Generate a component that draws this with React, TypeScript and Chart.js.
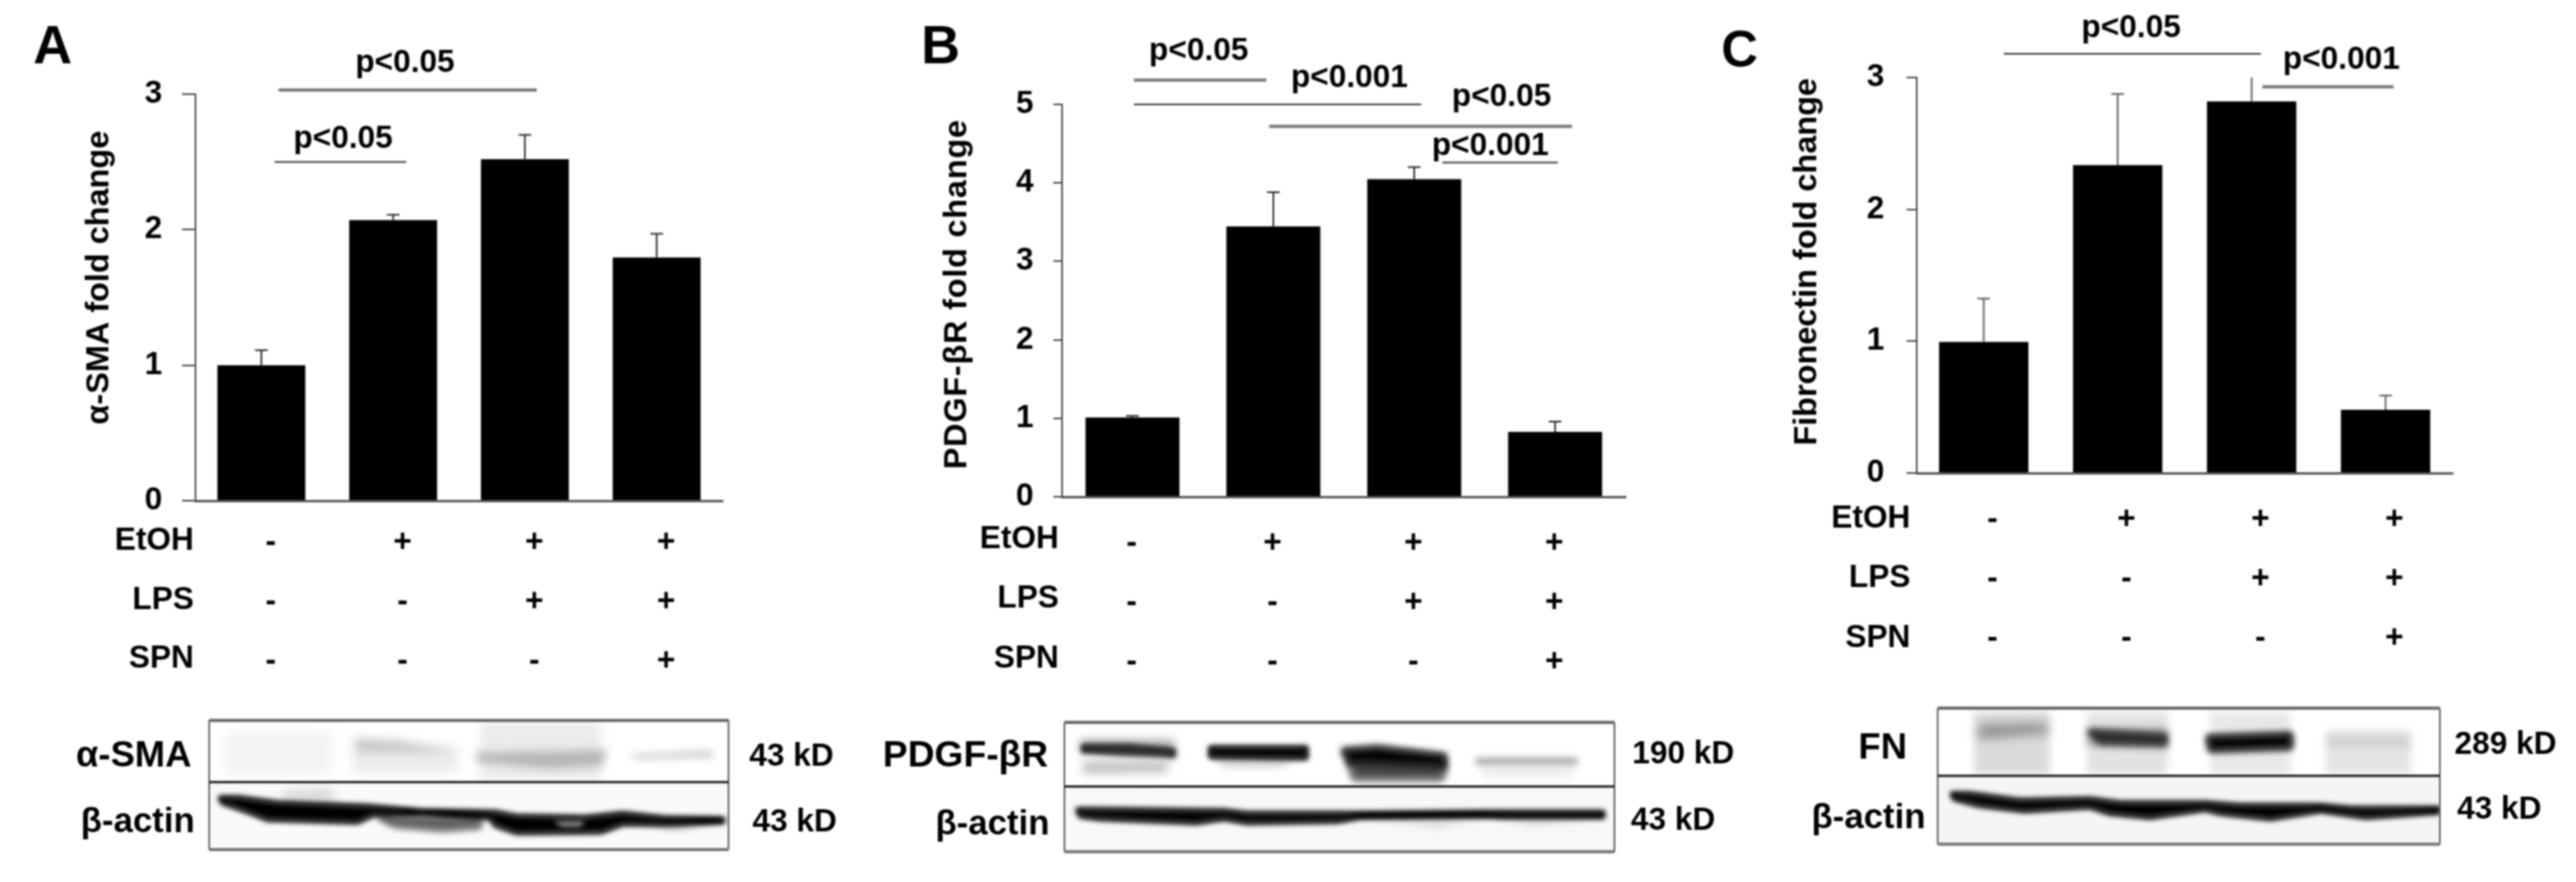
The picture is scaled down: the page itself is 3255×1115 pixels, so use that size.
import React, { useEffect, useRef } from "react";
import { Chart, registerables } from "chart.js";

Chart.register(...registerables);

const FONT = '"Liberation Sans", Arial, sans-serif';

// ---- data ----
const treatmentRows = ["EtOH", "LPS", "SPN"];
const treatments = [
  ["-", "-", "-"],
  ["+", "-", "-"],
  ["+", "+", "-"],
  ["+", "+", "+"],
];
const smaValues = [1.0, 2.07, 2.52, 1.795];
const smaErrors = [1.11, 2.11, 2.7, 1.97];
const pdgfValues = [1.01, 3.445, 4.047, 0.826];
const pdgfErrors = [1.03, 3.88, 4.2, 0.958];
const fnValues = [0.995, 2.336, 2.818, 0.48];
const fnErrors = [1.323, 2.876, 3.0, 0.588];

// p-value annotations: from/to in category units, y in value units
const smaSig = [
  { text: "p<0.05", from: 0.13, to: 2.09, y: 3.03, tx: 1.09, ty: 3.23, heavy: true },
  { text: "p<0.05", from: 0.1, to: 1.1, y: 2.5, tx: 0.62, ty: 2.67, heavy: false },
];
const pdgfSig = [
  { text: "p<0.05", from: 0.01, to: 0.95, y: 5.31, tx: 0.47, ty: 5.68, heavy: true },
  { text: "p<0.001", from: 0.01, to: 2.05, y: 5.0, tx: 1.54, ty: 5.33, heavy: false },
  { text: "p<0.05", from: 0.97, to: 3.12, y: 4.72, tx: 2.62, ty: 5.09, heavy: true },
  { text: "p<0.001", from: 2.2, to: 3.02, y: 4.26, tx: 2.54, ty: 4.47, heavy: false },
];
const fnSig = [
  { text: "p<0.05", from: 0.15, to: 2.07, y: 3.18, tx: 1.1, ty: 3.37, heavy: false },
  { text: "p<0.001", from: 2.08, to: 3.06, y: 2.93, tx: 2.67, ty: 3.13, heavy: true },
];

// ---- western blot sketches (coordinates in crop units of each blot) ----
type Shape = { p: number[][]; c: string; b: number };
const blotA = {
  ox: 50, oy: 880, fx: 1.4933, fy: 3,
  frame: [320, 92, 1300, 326, 582],
  bg: "#fafafa",
  top: [
    { p: [[350, 130], [550, 130], [550, 300], [350, 300]], c: "#f3f3f3", b: 8 },
    { p: [[590, 170], [790, 190], [790, 290], [590, 290]], c: "#ececec", b: 7 },
    { p: [[595, 160], [680, 170], [785, 215], [600, 215]], c: "#c9c9c9", b: 6 },
    { p: [[830, 100], [1060, 100], [1060, 320], [830, 320]], c: "#ececec", b: 6 },
    { p: [[825, 215], [1070, 205], [1060, 265], [960, 275], [825, 250]], c: "#b4b4b4", b: 6 },
    { p: [[1120, 220], [1270, 205], [1270, 235], [1120, 240]], c: "#d2d2d2", b: 5 },
  ] as Shape[],
  bottom: [
    { p: [[460, 360], [550, 350], [560, 400], [460, 400]], c: "#d8d8d8", b: 6 },
    { p: [[640, 460], [830, 465], [830, 495], [760, 505], [670, 490]], c: "#555", b: 4 },
    { p: [[1120, 480], [1280, 478], [1200, 510]], c: "#bbb", b: 4 },
    { p: [[340, 385], [375, 385], [450, 405], [620, 418], [720, 435], [860, 440], [900, 455], [1030, 460], [1100, 445], [1180, 462], [1290, 465], [1290, 478], [1180, 485], [1100, 485], [1060, 515], [900, 518], [860, 490], [850, 462], [720, 445], [630, 450], [600, 478], [430, 468], [395, 440], [345, 405]], c: "#000", b: 3 },
    { p: [[970, 475], [1030, 475], [1020, 495], [985, 495]], c: "#999", b: 3 },
  ] as Shape[],
};
const blotB = {
  ox: 1090, oy: 880, fx: 1.4, fy: 3,
  frame: [357, 100, 1330, 343, 590],
  bg: "#f8f8f8",
  top: [
    { p: [[385, 165], [550, 165], [555, 235], [385, 215]], c: "#aaa", b: 6 },
    { p: [[390, 190], [470, 190], [550, 205], [550, 225], [470, 218], [390, 208]], c: "#222", b: 3 },
    { p: [[390, 245], [540, 245], [540, 290], [390, 295]], c: "#c2c2c2", b: 6 },
    { p: [[620, 235], [780, 235], [740, 268], [640, 268]], c: "#ccc", b: 5 },
    { p: [[615, 195], [785, 195], [785, 235], [615, 230]], c: "#000", b: 3 },
    { p: [[860, 250], [1030, 265], [1025, 312], [870, 312]], c: "#444", b: 5 },
    { p: [[850, 205], [910, 195], [1030, 225], [1030, 265], [860, 250]], c: "#000", b: 4 },
    { p: [[1090, 270], [1260, 270], [1255, 310], [1100, 310]], c: "#eee", b: 5 },
    { p: [[1085, 235], [1265, 235], [1265, 260], [1085, 260]], c: "#a0a0a0", b: 4 },
  ] as Shape[],
  bottom: [
    { p: [[900, 465], [1100, 460], [1020, 500]], c: "#ddd", b: 5 },
    { p: [[1130, 460], [1300, 460], [1190, 495]], c: "#ddd", b: 5 },
    { p: [[380, 430], [420, 430], [640, 435], [680, 445], [870, 445], [1100, 440], [1310, 440], [1310, 458], [1130, 458], [1100, 455], [880, 460], [840, 475], [680, 480], [640, 465], [590, 480], [420, 465], [385, 455]], c: "#000", b: 3 },
  ] as Shape[],
};
const blotC = {
  ox: 2260, oy: 870, fx: 1.576, fy: 3,
  frame: [297, 76, 1297, 332, 592],
  bg: "#f5f5f5",
  top: [
    { p: [[370, 90], [520, 90], [520, 325], [370, 325]], c: "#dadada", b: 5 },
    { p: [[380, 140], [515, 135], [515, 170], [380, 190]], c: "#888", b: 7 },
    { p: [[595, 90], [755, 90], [755, 325], [595, 325]], c: "#e2e2e2", b: 5 },
    { p: [[595, 150], [755, 150], [755, 230], [595, 220]], c: "#aaa", b: 5 },
    { p: [[600, 165], [750, 180], [750, 210], [620, 205]], c: "#222", b: 4 },
    { p: [[840, 90], [1000, 90], [1000, 325], [840, 325]], c: "#e8e8e8", b: 5 },
    { p: [[835, 185], [1000, 175], [1000, 225], [840, 235]], c: "#000", b: 4 },
    { p: [[1070, 160], [1240, 160], [1240, 325], [1070, 325]], c: "#e4e4e4", b: 5 },
    { p: [[1075, 180], [1235, 180], [1235, 225], [1075, 225]], c: "#d2d2d2", b: 5 },
  ] as Shape[],
  bottom: [
    { p: [[325, 400], [360, 400], [460, 425], [600, 420], [660, 435], [830, 435], [900, 445], [1060, 445], [1120, 455], [1295, 455], [1295, 470], [1150, 490], [1060, 465], [960, 495], [860, 475], [830, 460], [720, 490], [640, 475], [600, 450], [470, 465], [380, 445], [330, 420]], c: "#000", b: 3 },
  ] as Shape[],
};

type Txt = [string, number, number, string?];

const panels = [
  {
    canvasLeft: 0, canvasWidth: 1090,
    area: { left: 247, top: 119, right: 913, bottom: 633 },
    values: smaValues, errors: smaErrors, sig: smaSig, max: 3,
    tickLen: 17, tickPad: 25, labelOffset: 12, rowY: [684, 759, 833], rowRight: 245, xPad: 7,
    title: "α-SMA fold change", titleX: 126, titleY: 351, titleSpacing: "0px",
    letter: ["A", 42, 61, 68], errColor: "#222",
    blot: blotA,
    blotLabels: [["α-SMA", 169, 956, "46"], ["β-actin", 174, 1040, "44"]] as Txt[],
    kd: [["43 kD", 1000, 957], ["43 kD", 1004, 1040]] as Txt[],
  },
  {
    canvasLeft: 1090, canvasWidth: 1130,
    area: { left: 1342, top: 132, right: 2054, bottom: 628 },
    values: pdgfValues, errors: pdgfErrors, sig: pdgfSig, max: 5,
    tickLen: 11, tickPad: 25, labelOffset: -1, rowY: [682, 757, 833], rowRight: 1338, xPad: 13,
    title: "PDGF-βR fold change", titleX: 1210, titleY: 372, titleSpacing: "1px",
    letter: ["B", 1164, 61, 68], errColor: "#222",
    blot: blotB,
    blotLabels: [["PDGF-βR", 1220, 956, "47"], ["β-actin", 1254, 1043, "44"]] as Txt[],
    kd: [["190 kD", 2127, 954], ["43 kD", 2114, 1038]] as Txt[],
  },
  {
    canvasLeft: 2170, canvasWidth: 1085,
    area: { left: 2422, top: 98, right: 3099, bottom: 598 },
    values: fnValues, errors: fnErrors, sig: fnSig, max: 3,
    tickLen: 13, tickPad: 28, labelOffset: 11, rowY: [656, 731, 807], rowRight: 2414, xPad: 13,
    title: "Fibronectin fold change", titleX: 2284, titleY: 331, titleSpacing: "0px",
    letter: ["C", 2175, 66, 64], errColor: "#555",
    blot: blotC,
    blotLabels: [["FN", 2379, 946, "46"], ["β-actin", 2361, 1035, "44"]] as Txt[],
    kd: [["289 kD", 3166, 942], ["43 kD", 3158, 1024]] as Txt[],
  },
];

function drawShape(ctx: CanvasRenderingContext2D, s: Shape, X: (v: number) => number, Y: (v: number) => number) {
  ctx.save();
  ctx.filter = `blur(${s.b}px)`;
  ctx.fillStyle = s.c;
  ctx.strokeStyle = s.c;
  ctx.lineJoin = "round";
  ctx.lineWidth = 5;
  ctx.beginPath();
  s.p.forEach((pt, i) => (i ? ctx.lineTo(X(pt[0]), Y(pt[1])) : ctx.moveTo(X(pt[0]), Y(pt[1]))));
  ctx.closePath();
  ctx.fill();
  // dark bands sit a little fatter than their outline
  if (s.c[1] < "6") ctx.stroke();
  ctx.restore();
}

function drawBlot(ctx: CanvasRenderingContext2D, blot: typeof blotA, shift: number) {
  const X = (v: number) => blot.ox + v / blot.fx - shift;
  const Y = (v: number) => blot.oy + v / blot.fy;
  const [l, t, r, m, b] = blot.frame;
  const part = (y0: number, y1: number, bg: string, shapes: Shape[]) => {
    ctx.save();
    ctx.beginPath();
    ctx.rect(X(l), Y(y0), X(r) - X(l), Y(y1) - Y(y0));
    ctx.clip();
    ctx.fillStyle = bg;
    ctx.fillRect(X(l), Y(y0), X(r) - X(l), Y(y1) - Y(y0));
    shapes.forEach((s) => drawShape(ctx, s, X, Y));
    ctx.restore();
  };
  part(t, m, "#fff", blot.top);
  part(m, b, blot.bg, blot.bottom);
  ctx.save();
  const line = (x0: number, y0: number, x1: number, y1: number, w: number, c: string) => {
    ctx.strokeStyle = c;
    ctx.lineWidth = w;
    ctx.beginPath();
    ctx.moveTo(X(x0), Y(y0));
    ctx.lineTo(X(x1), Y(y1));
    ctx.stroke();
  };
  line(l, t, l, b, 2, "#555");
  line(r, t, r, b, 2, "#555");
  line(l, t, r, t, 4, "#666");
  line(l, m, r, m, 3, "#222");
  line(l, b, r, b, 4, "#777");
  ctx.restore();
}

function makePlugin(panel: (typeof panels)[number]) {
  const shift = panel.canvasLeft;
  return {
    id: "figureExtras",
    afterDatasetsDraw(chart: any) {
      const { ctx, scales } = chart;
      const xs = scales.x;
      const ys = scales.y;
      const text = (s: string, x: number, y: number, font: string, align: CanvasTextAlign = "center") => {
        ctx.font = font;
        ctx.textAlign = align;
        ctx.textBaseline = "middle";
        ctx.fillStyle = "#000";
        ctx.fillText(s, x, y);
      };
      ctx.save();
      // error bars
      panel.errors.forEach((top, i) => {
        const cx = xs.getPixelForValue(i);
        const y0 = ys.getPixelForValue(panel.values[i]);
        const y1 = ys.getPixelForValue(top);
        ctx.strokeStyle = panel.errColor;
        ctx.lineWidth = 2;
        ctx.beginPath();
        ctx.moveTo(cx, y0);
        ctx.lineTo(cx, y1);
        if (top < panel.max) {
          ctx.moveTo(cx - 8, y1);
          ctx.lineTo(cx + 8, y1);
        }
        ctx.stroke();
      });
      // significance lines and labels
      panel.sig.forEach((s) => {
        const y = ys.getPixelForValue(s.y);
        ctx.strokeStyle = s.heavy ? "#777" : "#333";
        ctx.lineWidth = s.heavy ? 4 : 2;
        ctx.beginPath();
        ctx.moveTo(xs.getPixelForValue(s.from), y);
        ctx.lineTo(xs.getPixelForValue(s.to), y);
        ctx.stroke();
        text(s.text, xs.getPixelForValue(s.tx), ys.getPixelForValue(s.ty), `bold 40px ${FONT}`);
      });
      // row names of the treatment table
      treatmentRows.forEach((name, i) => {
        text(name, panel.rowRight - shift, panel.rowY[i], `bold 40px ${FONT}`, "right");
      });
      // y title
      ctx.save();
      ctx.translate(panel.titleX - shift, panel.titleY);
      ctx.rotate(-Math.PI / 2);
      ctx.letterSpacing = panel.titleSpacing;
      text(panel.title, 0, 0, `bold 41px ${FONT}`);
      ctx.restore();
      // panel letter
      const [letter, lx, ly, size] = panel.letter as [string, number, number, number];
      text(letter, lx - shift, ly, `bold ${size}px ${FONT}`, "left");
      // blot and its labels
      drawBlot(ctx, panel.blot, shift);
      panel.blotLabels.forEach(([s, x, y, size2]) => text(s, x - shift, y, `bold ${size2}px ${FONT}`));
      panel.kd.forEach(([s, x, y]) => text(s, x - shift, y, `bold 40px ${FONT}`));
      ctx.restore();
    },
  };
}

const Y_WIDTH = 110;
const X_HEIGHT = 260;
const HEIGHT = 1115;

function Panel({ panel }: { panel: (typeof panels)[number] }) {
  const ref = useRef<HTMLCanvasElement>(null);
  useEffect(() => {
    const a = panel.area;
    const chart = new Chart(ref.current as HTMLCanvasElement, {
      type: "bar",
      data: {
        labels: treatments,
        datasets: [
          {
            data: panel.values,
            backgroundColor: "#000",
            barPercentage: 0.667,
            categoryPercentage: 1,
          },
        ],
      },
      plugins: [makePlugin(panel)],
      options: {
        responsive: false,
        animation: false,
        layout: {
          padding: {
            left: a.left - panel.canvasLeft - Y_WIDTH,
            top: a.top,
            right: panel.canvasLeft + panel.canvasWidth - a.right,
            bottom: HEIGHT - a.bottom - X_HEIGHT,
          },
        },
        plugins: { legend: { display: false }, tooltip: { enabled: false }, title: { display: false } },
        scales: {
          x: {
            afterFit: (s: any) => { s.height = X_HEIGHT; },
            grid: { display: false },
            border: { color: "#555", width: 3 },
            ticks: {
              color: "#000",
              autoSkip: false,
              maxRotation: 0,
              minRotation: 0,
              padding: panel.xPad,
              labelOffset: panel.labelOffset,
              font: { family: FONT, weight: "bold", size: 40, lineHeight: "75px" },
            },
          },
          y: {
            min: 0,
            max: panel.max,
            afterFit: (s: any) => { s.width = Y_WIDTH; },
            grid: { drawOnChartArea: false, tickLength: panel.tickLen, color: "#444", lineWidth: 2 },
            border: { color: "#444", width: 2 },
            ticks: {
              stepSize: 1,
              color: "#000",
              padding: panel.tickPad,
              font: { family: FONT, weight: "bold", size: 40 },
            },
          },
        },
      },
    } as any);
    return () => chart.destroy();
  }, [panel]);
  return (
    <canvas
      ref={ref}
      width={panel.canvasWidth}
      height={HEIGHT}
      style={{ position: "absolute", left: panel.canvasLeft, top: 0, width: panel.canvasWidth, height: HEIGHT, filter: "blur(0.9px)" }}
    />
  );
}

export default function App() {
  return (
    <div style={{ position: "absolute", left: 0, top: 0, width: 3255, height: HEIGHT, background: "#fff", overflow: "hidden" }}>
      {panels.map((p) => (
        <Panel key={p.canvasLeft} panel={p} />
      ))}
    </div>
  );
}
